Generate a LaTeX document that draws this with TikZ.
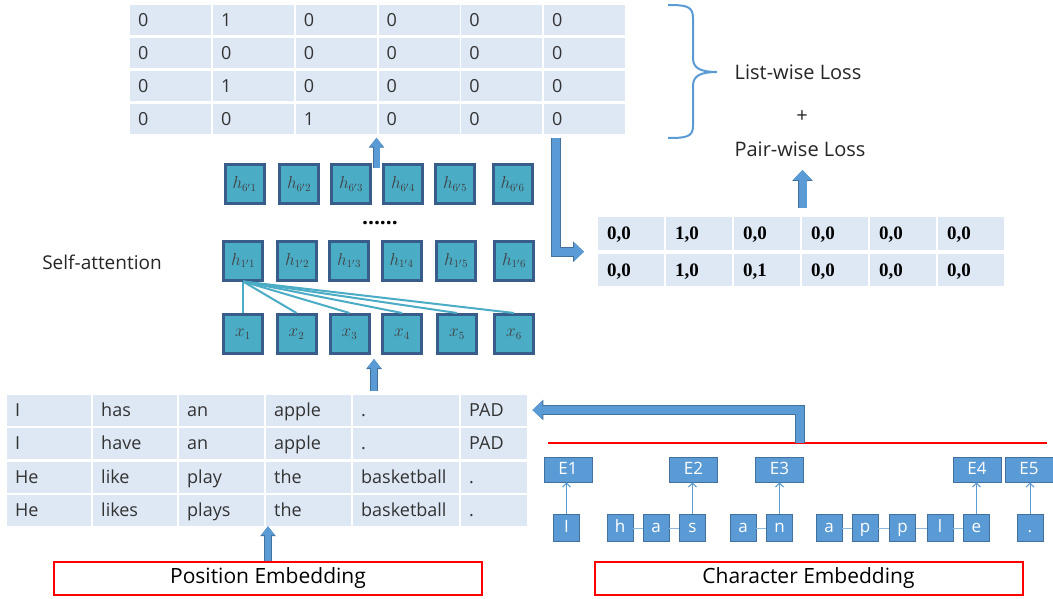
\documentclass[tikz,border=0pt]{standalone}
\usepackage{fontspec}
\setmainfont{Open Sans}
\newfontfamily\timesbold{Liberation Serif}
\usepackage{tikz}
\usetikzlibrary{positioning,calc,arrows.meta}

\definecolor{cellblue}{HTML}{DEE8F5}
\definecolor{attnteal}{HTML}{4BACC6}
\definecolor{hedge}{HTML}{385D8A}
\definecolor{arrowblue}{HTML}{5B9BD5}
\definecolor{arrowedge}{HTML}{41719C}

\begin{document}
\begin{tikzpicture}[x=1pt, y=-1pt,
    cell/.style={fill=cellblue, text=black!80, anchor=west, inner xsep=8pt, inner ysep=0pt,
        minimum height=30pt, text height=15pt, text depth=3pt, align=left,
        font=\fontsize{18}{20}\selectfont},
    pcell/.style={cell, minimum height=32pt, text width=48pt, inner xsep=9pt,
        font=\fontsize{19}{21}\selectfont\timesbold\bfseries, text=black},
    hbox/.style={draw=hedge, fill=attnteal, line width=3pt, minimum size=39pt, inner sep=0pt,
        text=black!75, font=\fontsize{16}{18}\selectfont},
    attn/.style={draw=attnteal, line width=2pt},
    chbox/.style={draw=arrowedge, fill=arrowblue, line width=0.8pt, minimum width=26pt,
        minimum height=27pt, inner sep=0pt, text height=13pt, text depth=4pt, text=white,
        font=\fontsize{17}{19}\selectfont},
    ebox/.style={chbox, minimum width=48pt, minimum height=25pt},
    chlink/.style={draw=arrowblue!70, line width=0.8pt},
    charrow/.style={draw=arrowblue, line width=1pt, -{Straight Barb[length=4pt,width=8pt]}},
    uparrow/.style={draw=arrowblue, line width=6pt, -{Triangle[width=13pt,length=9pt]},
        preaction={draw=arrowedge, line width=7.5pt, -{Triangle[width=15pt,length=10pt]}}},
    bigarrow/.style={draw=arrowblue, line width=8pt, -{Triangle[width=18pt,length=10pt]},
        preaction={draw=arrowedge, line width=9.5pt, -{Triangle[width=20pt,length=11pt]}}},
    embbox/.style={draw=red, line width=2pt, minimum width=428pt, minimum height=33pt,
        font=\fontsize{21}{24}\selectfont},
    loss/.style={font=\fontsize{20}{24}\selectfont, text=black!85},
    bracestroke/.style={draw=arrowblue, line width=2pt}
]
    \useasboundingbox (0,0) rectangle (1053,599);
    \fill[white] (0,0) rectangle (1053,599);

    % Label matrix
    \foreach \vals [count=\r] in {{0,1,0,0,0,0},{0,0,0,0,0,0},{0,1,0,0,0,0},{0,0,1,0,0,0}} {
        \foreach \v [count=\c] in \vals {
            \node[cell, text width=65pt] (m-\r-\c) at ({130+(\c-1)*82.8}, {20.5+(\r-1)*33}) {\v};
        }
    }

    % Sentences
    \foreach \words [count=\r] in {{I,has,an,apple,.,PAD},{I,have,an,apple,.,PAD},
            {He,like,play,the,basketball,.},{He,likes,plays,the,basketball,.}} {
        \foreach \word [count=\c] in \words {
            \pgfmathsetmacro\cx{{7,93,179,266,353,461}[\c-1]}
            \pgfmathsetmacro\tw{{84,84,85,85,106,66}[\c-1]-16}
            \node[cell, minimum height=31pt, text width=\tw pt] (b-\r-\c) at (\cx, {410+(\r-1)*33.5}) {\word};
        }
    }

    % Pair table
    \foreach \a/\b [count=\c] in {0/0,1/0,0/0,0/0,0/0,0/0}
        \node[pcell] (r-1-\c) at ({598+(\c-1)*68}, 233.5) {\a,\b};
    \foreach \a/\b [count=\c] in {0/0,1/0,0/1,0/0,0/0,0/0}
        \node[pcell] (r-2-\c) at ({598+(\c-1)*68}, 270) {\a,\b};

    % Self-attention layers
    \foreach \x [count=\i] in {244.5,299,351,403,455,512.5}
        \node[hbox] (ht-\i) at (\x,184) {$h_{6'\i}$};
    \foreach \x [count=\i] in {243,297,349,401.5,456,514}
        \node[hbox] (hb-\i) at (\x,260.5) {$h_{1'\i}$};
    \foreach \x [count=\i] in {243,296.5,349.5,402,457,514}
        \node[hbox] (x-\i) at (\x,334) {$x_{\i}$};
    \node[font=\fontsize{21}{24}\selectfont\bfseries] (dots) at (380,223) {......};
    \node[font=\fontsize{19}{22}\selectfont, text=black!85] (selfatt) at (102,262) {Self-attention};
    \foreach \i in {1,...,6}
        \draw[attn] (hb-1.south) -- (x-\i.north);

    % Characters
    \foreach \ch/\x [count=\i] in {I/566.5,h/620,a/656,s/692.5,a/743,n/779.5,
            a/829,p/865,p/902.5,l/940,e/976.5,./1030}
        \node[chbox] (ch-\i) at (\x,528) {\ch};
    \foreach \x [count=\i] in {568,693.5,779.5,977,1029}
        \node[ebox] (e-\i) at (\x,469.5) {E\i};
    \draw[chlink] (ch-2) -- (ch-3) -- (ch-4);
    \draw[chlink] (ch-5) -- (ch-6);
    \draw[chlink] (ch-7) -- (ch-8) -- (ch-9) -- (ch-10) -- (ch-11);
    \foreach \c/\e in {1/1,4/2,6/3,11/4,12/5}
        \draw[charrow] (ch-\c) -- (ch-\c |- e-\e.south);

    % Embeddings
    \node[embbox] (posemb) at (268,578) {Position Embedding};
    \node[embbox] (charemb) at (808.5,578.5) {Character Embedding};
    \draw[red, line width=1.2pt] (548,443) -- (1047,443);
    \coordinate (cebar) at (800,443);

    % Losses
    \node[loss] (listloss) at (798,72) {List-wise Loss};
    \node[loss] (plus) at (802,117) {+};
    \node[loss] (pairloss) at (800,149) {Pair-wise Loss};
    \draw[bracestroke] (668,5) .. controls (686,5) and (693,6) .. (693,18) -- (693,58)
        .. controls (693,68) and (700,72) .. (717,72)
        .. controls (700,72) and (693,76) .. (693,86) -- (693,126)
        .. controls (693,137) and (686,138) .. (668,138);

    % Arrows
    \coordinate (hout) at (376.5,168);
    \coordinate (xin) at (374,391);
    \coordinate (mdown) at (556,138);
    \coordinate (rout) at (802.5,208);
    \draw[uparrow] (hout) -- ([yshift=-3pt]hout |- m-4-4.south);
    \draw[uparrow] (xin) -- ([yshift=-4pt]xin |- x-4.south);
    \draw[uparrow] (posemb.north) -- (posemb.north |- b-4-4.south);
    \draw[bigarrow] (rout) -- ([yshift=-10pt]rout |- pairloss.south);
    \draw[bigarrow] (cebar) |- ([xshift=5pt]b-1-6.east);
    \draw[bigarrow] (mdown) |- ([xshift=-14pt]$(r-1-1.west)!.5!(r-2-1.west)$);
\end{tikzpicture}
\end{document}
